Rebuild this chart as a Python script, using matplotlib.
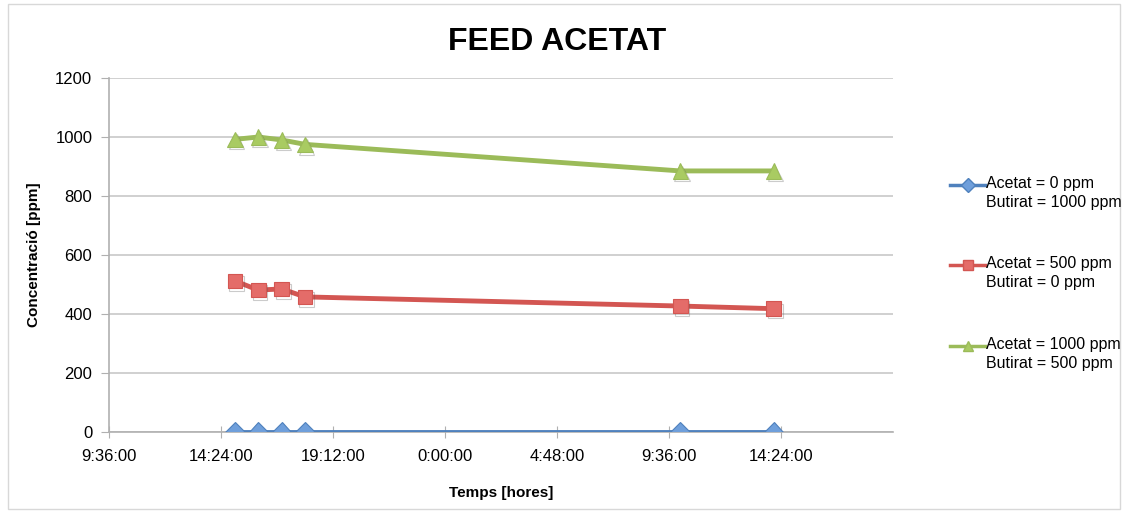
import datetime as dt
import matplotlib
matplotlib.use("Agg")
import matplotlib.pyplot as plt
import matplotlib.dates as mdates
import matplotlib.patheffects as pe
from matplotlib.patches import Rectangle

plt.rcParams["font.family"] = ["Liberation Sans", "DejaVu Sans"]

# sampling times (day offset, "H:M")
times = [(0, "15:00"), (0, "16:00"), (0, "17:00"), (0, "18:00"), (1, "10:05"), (1, "14:05")]

acetat_0 = [0, 0, 0, 0, 0, 0]
acetat_500 = [512, 481, 485, 458, 427, 418]
acetat_1000 = [992, 1000, 990, 975, 885, 885]

labels = [
    "Acetat = 0 ppm\nButirat = 1000 ppm",
    "Acetat = 500 ppm\nButirat = 0 ppm",
    "Acetat = 1000 ppm\nButirat = 500 ppm",
]

BASE = dt.datetime(2012, 1, 1)


def to_dt(day, hm):
    h, m = map(int, hm.split(":"))
    return BASE + dt.timedelta(days=day, hours=h, minutes=m)


x = [to_dt(d, t) for d, t in times]

fig = plt.figure(figsize=(11.27, 5.13), dpi=100)
ax = fig.add_axes([109 / 1127, 1 - 432 / 513, (893 - 109) / 1127, (432 - 78) / 513])

# chart area frame
fig.patches.append(Rectangle((8 / 1127, 4 / 513), 1112 / 1127, 505 / 513,
                             transform=fig.transFigure, fill=False,
                             edgecolor="#d8d8d8", linewidth=1.0))

shadow = [pe.SimpleLineShadow(offset=(1.2, -1.8), shadow_color="#555555", alpha=0.3), pe.Normal()]

series = [
    (acetat_0, "#4f81bd", "#6f9fdb", "D", 10),
    (acetat_500, "#d35652", "#e46c69", "s", 10.5),
    (acetat_1000, "#9bbb59", "#a9cb62", "^", 11),
]
for vals, lc, mc, mk, ms in series:
    ax.plot(x, vals, color=lc, linewidth=3.5, zorder=3)
    ax.plot(x, vals, linestyle="none", marker=mk, markersize=ms,
            markerfacecolor=mc, markeredgecolor=lc, markeredgewidth=0.8,
            zorder=4, path_effects=shadow)

ax.set_ylim(0, 1200)
ax.set_yticks(range(0, 1201, 200))
start = BASE + dt.timedelta(hours=9, minutes=36)
ticks = [start + dt.timedelta(hours=4.8 * i) for i in range(8)]
ax.set_xlim(ticks[0], ticks[-1])
ax.set_xticks(ticks[:-1])
ax.xaxis.set_major_formatter(
    matplotlib.ticker.FuncFormatter(
        lambda v, p: "{}:{:02d}:00".format(mdates.num2date(v).hour, mdates.num2date(v).minute)))

ax.grid(True, axis="y", color="#c8c8c8", linewidth=1.2)
ax.set_axisbelow(True)
for s in ["top", "right"]:
    ax.spines[s].set_visible(False)
ax.spines["left"].set_color("#b0b0b0")
ax.spines["bottom"].set_color("#b0b0b0")
ax.spines["left"].set_linewidth(1.2)
ax.spines["bottom"].set_linewidth(1.2)
ax.tick_params(axis="y", direction="out", length=6, color="#b0b0b0", labelsize=12, pad=6)
ax.tick_params(axis="x", direction="inout", length=8, color="#b0b0b0", labelsize=12, pad=8)

ax.set_xlabel("Temps [hores]", fontsize=11, fontweight="bold", labelpad=16)
ax.set_ylabel("Concentració [ppm]", fontsize=11, fontweight="bold", labelpad=10)
fig.text(557 / 1127, 1 - 42 / 513, "FEED ACETAT", fontsize=23, fontweight="bold",
         ha="center", va="center")

# legend entries (pixel y of first text line)
legend_y = [185, 265, 346]
for (vals, lc, mc, mk, ms), lab, ly in zip(series, labels, legend_y):
    yf = 1 - ly / 513
    fig.add_artist(matplotlib.lines.Line2D(
        [950 / 1127, 985 / 1127], [yf, yf], transform=fig.transFigure,
        color=lc, linewidth=2.5))
    fig.add_artist(matplotlib.lines.Line2D(
        [967.5 / 1127], [yf], transform=fig.transFigure, linestyle="none",
        marker=mk, markersize=7, markerfacecolor=mc, markeredgecolor=lc))
    fig.text(986 / 1127, 1 - (ly - 9) / 513, lab, fontsize=11.5, ha="left", va="top",
             linespacing=1.35)

fig.savefig("out.png", dpi=100)
